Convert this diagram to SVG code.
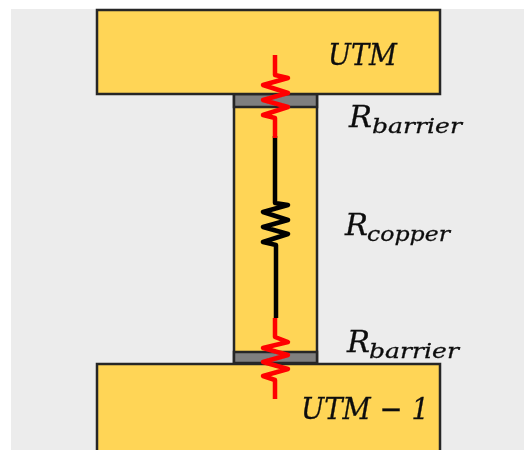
<svg xmlns="http://www.w3.org/2000/svg" width="524" height="450" viewBox="0 0 524 450">
<defs><filter id="soft" x="-5%" y="-5%" width="110%" height="110%"><feGaussianBlur stdDeviation="0.45"/></filter></defs>
<style>
.block{fill:#ffd557;stroke:#262626;stroke-width:2.5}
.barrier{fill:#7f7f7f;stroke:#262626;stroke-width:2.5}
.wire{fill:none;stroke-width:4.5;stroke-linejoin:round}
.red{stroke:#ff0000}
.black{stroke:#000000}
text{font-family:"DejaVu Serif","Liberation Serif",serif;font-style:italic;fill:#111111;stroke:#111111;stroke-width:0.3}
.main{font-size:29px}
.sub{font-size:21px}
</style>
<rect x="11" y="9" width="513" height="441" fill="#ececec"/>
<g filter="url(#soft)">
<g id="column"><rect class="block" x="234" y="94" width="83" height="270"/></g>
<g id="barrier-top"><rect class="barrier" x="234" y="94" width="83" height="13"/></g>
<g id="barrier-bottom"><rect class="barrier" x="234" y="352" width="83" height="11"/></g>
<g id="utm"><rect class="block" x="97" y="10" width="343" height="84"/><text class="main" x="328" y="65" textLength="69" lengthAdjust="spacingAndGlyphs">UTM</text></g>
<g id="utm-1"><rect class="block" x="97" y="364" width="343" height="90"/><text class="main" x="301" y="419" textLength="128" lengthAdjust="spacingAndGlyphs">UTM − 1</text></g>
<g id="connectors">
<path class="wire black" d="M275 136V203L288 205L263 212L288 220L263 227L288 234L263 242L276 245V318"/>
<path class="wire red" d="M275 55V75L288 78L263 85L288 93L263 100L288 107L263 115L275 118V138"/>
<path class="wire red" d="M275 318V337L288 342L263 348L288 355L263 362L288 369L263 376L275 380V399"/>
</g>
<g id="label-top"><text class="main" x="349" y="127" textLength="23" lengthAdjust="spacingAndGlyphs">R</text><text class="sub" x="372" y="133" textLength="90" lengthAdjust="spacingAndGlyphs">barrier</text></g>
<g id="label-copper"><text class="main" x="345" y="235" textLength="23" lengthAdjust="spacingAndGlyphs">R</text><text class="sub" x="367" y="241" textLength="83" lengthAdjust="spacingAndGlyphs">copper</text></g>
<g id="label-bottom"><text class="main" x="347" y="352" textLength="23" lengthAdjust="spacingAndGlyphs">R</text><text class="sub" x="369" y="358" textLength="90" lengthAdjust="spacingAndGlyphs">barrier</text></g>
</g>
</svg>
